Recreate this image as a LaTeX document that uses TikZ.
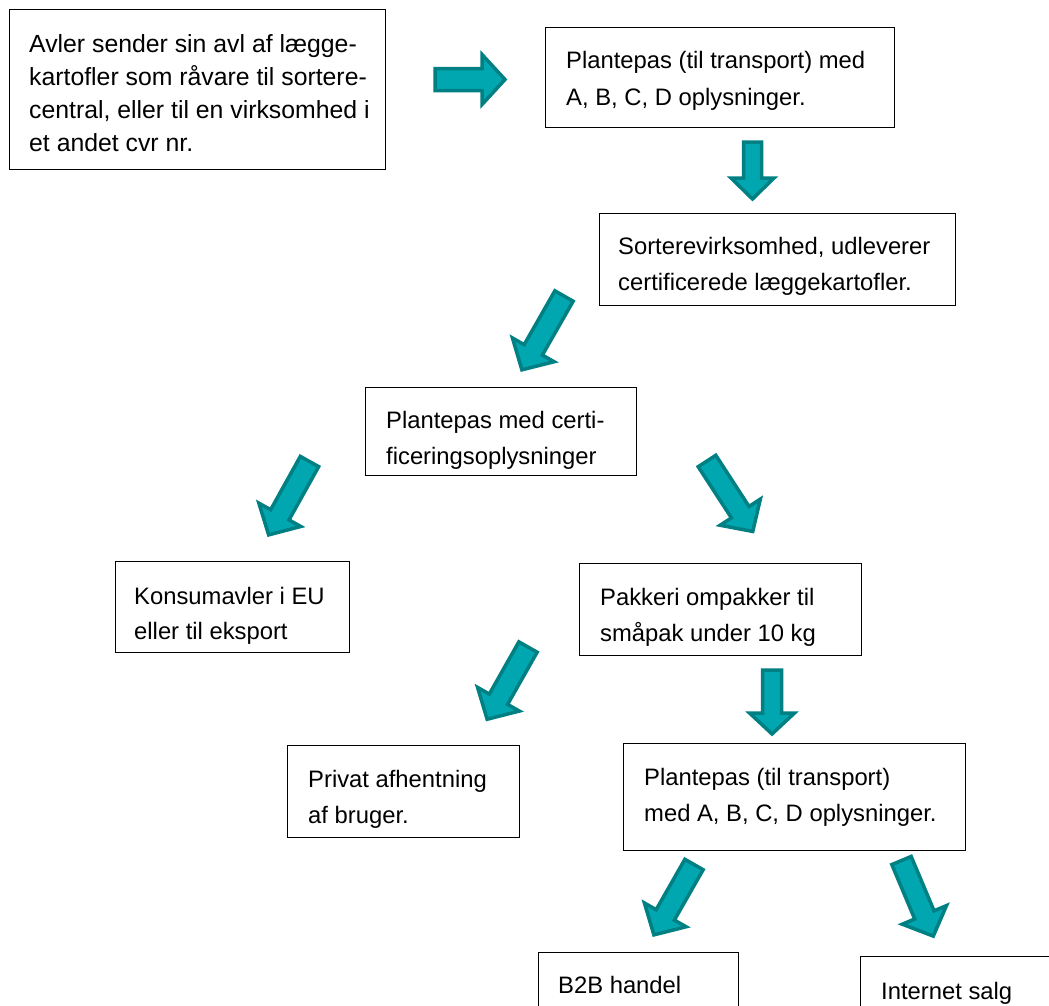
\documentclass[tikz,border=0pt]{standalone}
\usepackage{fontspec}
\setmainfont{Liberation Sans}
\definecolor{arrfill}{RGB}{0,166,176}
\definecolor{arrdraw}{RGB}{0,128,130}
\newcommand\blockarr[6]{%
  \draw[arr, shift={(#1)}, rotate=#2] (0,-#4/2) -- (#3-#6,-#4/2) -- (#3-#6,-#5/2) -- (#3,0) -- (#3-#6,#5/2) -- (#3-#6,#4/2) -- (0,#4/2) -- cycle;}
\newcommand\linesof[1]{\begin{tabular}[t]{@{}l@{}}#1\end{tabular}}
\begin{document}
\begin{tikzpicture}[x=1pt,y=-1pt,
  box/.style={draw=black, line width=1.4pt, anchor=north west, inner sep=0pt},
  lbl/.style={anchor=base west, inner sep=0pt, font=\fontsize{23.8}{36}\selectfont},
  arr/.style={fill=arrfill, draw=arrdraw, line width=3.5pt, line join=miter}]
\useasboundingbox (0,0) rectangle (1049,1005);

% boxes
\node[box, minimum width=376pt, minimum height=160pt] (avler) at (9,9) {};
\node[box, minimum width=349pt, minimum height=100pt] (pas1) at (545,27) {};
\node[box, minimum width=356pt, minimum height=92pt] (sort) at (599,213) {};
\node[box, minimum width=271pt, minimum height=88pt] (cert) at (365,387) {};
\node[box, minimum width=234pt, minimum height=91pt] (kons) at (115,561) {};
\node[box, minimum width=282pt, minimum height=92pt] (pak) at (579,563) {};
\node[box, minimum width=232pt, minimum height=92pt] (priv) at (287,745) {};
\node[box, minimum width=342pt, minimum height=107pt] (pas2) at (623,743) {};
\node[box, minimum width=200pt, minimum height=90pt] (b2b) at (538,952) {};
\node[box, minimum width=220pt, minimum height=90pt] (inet) at (860,956) {};

% texts
\node[lbl, font=\fontsize{24.8}{33.3}\selectfont] (avlerT) at (29,52)
  {\linesof{Avler sender sin avl af lægge-\\kartofler som råvare til sortere-\\central, eller til en virksomhed i\\et andet cvr nr.}};
\node[lbl, font=\fontsize{23.8}{37}\selectfont] (pas1T) at (566,68)
  {\linesof{Plantepas (til transport) med\\A, B, C, D oplysninger.}};
\node[lbl] (sortT) at (618,254)
  {\linesof{Sorterevirksomhed, udleverer\\certificerede læggekartofler.}};
\node[lbl] (certT) at (386,428)
  {\linesof{Plantepas med certi-\\ficeringsoplysninger}};
\node[lbl, font=\fontsize{23.8}{35}\selectfont] (konsT) at (134,604)
  {\linesof{Konsumavler i EU\\eller til eksport}};
\node[lbl] (pakT) at (600,605)
  {\linesof{Pakkeri ompakker til\\småpak under 10 kg}};
\node[lbl] (privT) at (308,787)
  {\linesof{Privat afhentning\\af bruger.}};
\node[lbl] (pas2T) at (644,785)
  {\linesof{Plantepas (til transport)\\med A, B, C, D oplysninger.}};
\node[lbl] (b2bT) at (558,993) {B2B handel};
\node[lbl] (inetT) at (881,999) {Internet salg};

% block arrows
\coordinate (a1) at (435,79.5);
\coordinate (a2) at (752.5,142);
\coordinate (a3) at (564,296);
\coordinate (a4) at (707,461);
\coordinate (a5) at (309.5,461.5);
\coordinate (a6) at (528,647);
\coordinate (a7) at (772,670);
\coordinate (a8) at (694,864.5);
\coordinate (a9) at (901.5,860.5);

\blockarr{a1}{0}{70}{22}{50}{23}
\blockarr{a2}{270}{57}{18}{43}{21}
\blockarr{a3}{240.3}{85}{21}{48}{23}
\blockarr{a4}{-57}{84}{21}{48}{23}
\blockarr{a5}{240.9}{84}{21}{48}{23}
\blockarr{a6}{240.5}{83}{21}{48}{23}
\blockarr{a7}{270}{64}{19}{45}{21}
\blockarr{a8}{240.3}{81}{21}{48}{23}
\blockarr{a9}{-67.2}{82}{21}{48}{23}
\end{tikzpicture}
\end{document}
